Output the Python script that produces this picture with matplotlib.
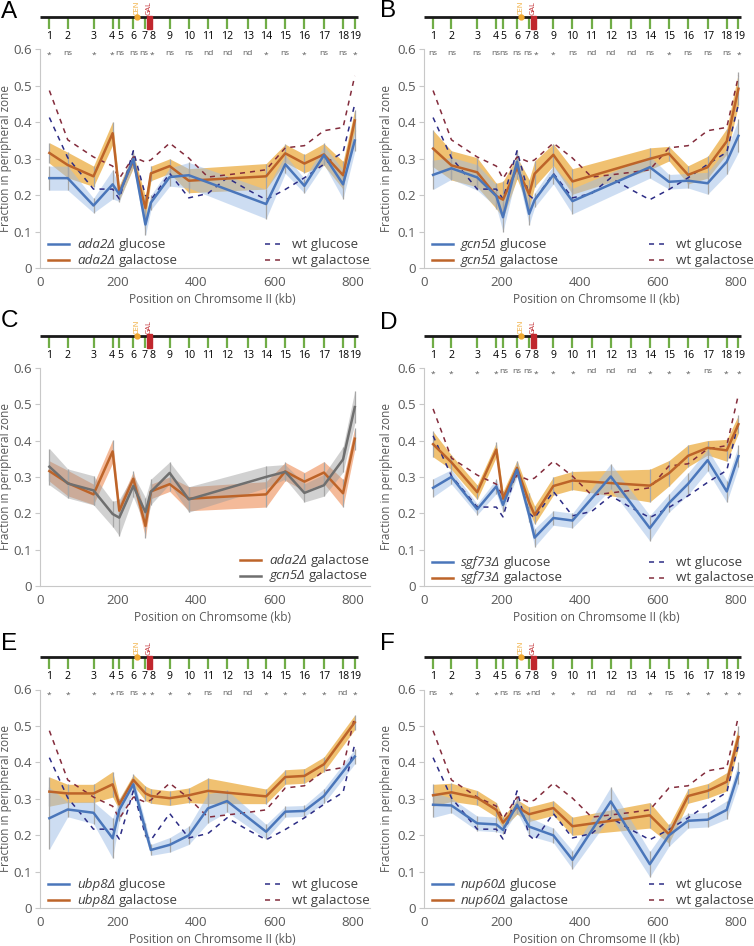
import numpy as np
import matplotlib
matplotlib.use('Agg')
import matplotlib.pyplot as plt
from matplotlib.offsetbox import TextArea, HPacker, VPacker, DrawingArea, AnchoredOffsetbox
from matplotlib.lines import Line2D
from matplotlib.patches import Rectangle

plt.rcParams['font.family'] = ['Open Sans', 'DejaVu Sans']

nan = np.nan

# positions of the 19 loci on chromosome II (kb)
pos = np.array([24, 71, 137, 186, 203, 239, 270, 284, 332, 381,
                430, 479, 532, 579, 628, 677, 727, 776, 806])
locus_labels = [str(i) for i in range(1, 20)]
chrom_len = 813
cen_kb = 248
gal_kb = 280

# wild type (dashed, same in every panel)
wt_glu = [0.413, 0.303, 0.217, 0.217, 0.19, 0.322, 0.20, 0.187, 0.26, 0.193,
          0.205, 0.248, 0.215, 0.188, 0.216, 0.248, 0.285, 0.318, 0.45]
wt_gal = [0.487, 0.352, 0.305, 0.28, 0.246, 0.305, 0.291, 0.297, 0.343, 0.302,
          0.25, 0.256, 0.263, 0.27, 0.33, 0.336, 0.377, 0.386, 0.527]

# A: ada2
ada2_glu = [0.247, 0.247, 0.172, 0.23, 0.203, 0.30, 0.12, 0.18, 0.25, 0.255,
            nan, nan, nan, 0.176, 0.285, 0.226, 0.31, 0.23, 0.35]
ada2_glu_err = [0.033, 0.033, 0.02, 0.04, 0.02, 0.02, 0.03, 0.02, 0.025, 0.035,
                nan, nan, nan, 0.04, 0.025, 0.02, 0.025, 0.04, 0.03]
ada2_gal = [0.316, 0.283, 0.252, 0.37, 0.207, 0.295, 0.165, 0.26, 0.28, 0.24,
            nan, nan, nan, 0.252, 0.315, 0.287, 0.312, 0.255, 0.405]
ada2_gal_err = [0.028, 0.035, 0.028, 0.032, 0.02, 0.02, 0.032, 0.02, 0.02, 0.033,
                nan, nan, nan, 0.035, 0.025, 0.025, 0.03, 0.038, 0.03]

# B: gcn5
gcn5_glu = [0.256, 0.274, 0.249, 0.198, 0.14, 0.292, 0.149, 0.187, 0.256, 0.184,
            nan, nan, nan, 0.277, 0.237, 0.24, 0.233, 0.292, 0.363]
gcn5_glu_err = [0.04, 0.03, 0.035, 0.03, 0.04, 0.03, 0.03, 0.02, 0.025, 0.035,
                nan, nan, nan, 0.03, 0.02, 0.02, 0.03, 0.035, 0.045]
gcn5_gal = [0.328, 0.282, 0.263, 0.198, 0.188, 0.275, 0.203, 0.259, 0.311, 0.238,
            nan, nan, nan, 0.30, 0.314, 0.256, 0.277, 0.348, 0.492]
gcn5_gal_err = [0.05, 0.04, 0.04, 0.035, 0.05, 0.03, 0.04, 0.035, 0.03, 0.035,
                nan, nan, nan, 0.03, 0.02, 0.025, 0.03, 0.035, 0.045]

# D: sgf73
sgf73_glu = [0.27, 0.30, 0.211, 0.274, 0.223, 0.32, 0.195, 0.133, 0.187, 0.18,
             nan, 0.301, nan, 0.159, 0.228, 0.281, 0.346, 0.26, 0.357]
sgf73_glu_err = [0.025, 0.02, 0.015, 0.02, 0.02, 0.02, 0.02, 0.025, 0.02, 0.02,
                 nan, 0.035, nan, 0.035, 0.025, 0.03, 0.03, 0.03, 0.03]
sgf73_gal = [0.39, 0.34, 0.258, 0.375, 0.24, 0.325, 0.23, 0.195, 0.275, 0.29,
             nan, nan, nan, 0.276, 0.31, 0.358, 0.38, 0.373, 0.445]
sgf73_gal_err = [0.035, 0.02, 0.02, 0.02, 0.02, 0.02, 0.025, 0.025, 0.025, 0.025,
                 nan, nan, nan, 0.045, 0.035, 0.03, 0.02, 0.03, 0.025]

# E: ubp8
ubp8_glu = [0.247, 0.271, 0.262, 0.192, 0.27, 0.34, 0.215, 0.16, 0.174, 0.20,
            0.274, 0.294, nan, 0.21, 0.265, 0.267, 0.308, nan, 0.416]
ubp8_glu_err = [0.085, 0.02, 0.03, 0.055, 0.03, 0.02, 0.02, 0.015, 0.02, 0.025,
                0.04, 0.03, nan, 0.02, 0.015, 0.015, 0.02, nan, 0.02]
ubp8_gal = [0.32, 0.315, 0.315, 0.34, 0.285, 0.352, 0.315, 0.308, 0.302, 0.31,
            0.322, nan, nan, 0.307, 0.36, 0.363, 0.395, nan, 0.51]
ubp8_gal_err = [0.04, 0.025, 0.025, 0.035, 0.015, 0.015, 0.02, 0.02, 0.02, 0.02,
                0.035, nan, nan, 0.02, 0.02, 0.02, 0.02, nan, 0.02]

# F: nup60
nup60_glu = [0.284, 0.282, 0.233, 0.23, 0.215, 0.284, 0.224, nan, 0.20, 0.133,
             nan, 0.293, nan, 0.121, 0.20, 0.24, 0.243, 0.27, 0.371]
nup60_glu_err = [0.035, 0.02, 0.02, 0.02, 0.01, 0.02, 0.025, nan, 0.02, 0.025,
                 nan, 0.04, nan, 0.035, 0.03, 0.02, 0.02, 0.025, 0.03]
nup60_gal = [0.31, 0.318, 0.303, 0.27, 0.235, 0.278, 0.258, nan, 0.275, 0.225,
             nan, nan, nan, 0.255, 0.203, 0.308, 0.322, 0.347, 0.47]
nup60_gal_err = [0.03, 0.025, 0.02, 0.02, 0.015, 0.02, 0.02, nan, 0.02, 0.025,
                 nan, nan, nan, 0.035, 0.025, 0.02, 0.02, 0.025, 0.03]

sig_A = ['*', 'ns', '*', '*', 'ns', 'ns', 'ns', '*', 'ns', 'ns', 'nd', 'nd', 'nd', '*', 'ns', '*', 'ns', 'ns', '*']
sig_B = ['ns', 'ns', 'ns', 'ns', 'ns', 'ns', 'ns', '*', '*', 'ns', 'nd', 'nd', 'nd', 'ns', '*', 'ns', 'ns', 'ns', '*']
sig_D = ['*', '*', '*', '*', 'ns', 'ns', 'ns', '*', '*', '*', 'nd', 'nd', 'nd', '*', '*', '*', 'ns', '*', '*']
sig_E = ['*', '*', '*', '*', 'ns', 'ns', '*', '*', '*', '*', 'ns', 'nd', 'nd', '*', '*', '*', '*', 'nd', '*']
sig_F = ['ns', '*', '*', '*', 'ns', 'ns', '*', 'nd', '*', '*', 'nd', 'nd', 'nd', '*', 'ns', '*', '*', '*', '*']

# small sideways nudges (kb) so crowded labels don't touch
label_nudge = [0, 0, 0, -2, 2, 0, -3, 3, 0, 0, 0, 0, 0, 0, 0, 0, 0, -1, 1]

# colours
BLUE = '#4a76ba'
BLUE_BAND = '#9dbde6'
ORANGE = '#bd6429'
GOLD_BAND = '#ebaa3a'
SALMON_BAND = '#ee8c55'
GRAY = '#6f6f6f'
GRAY_BAND = '#9a9a9a'
WT_GLU = '#2c2c85'
WT_GAL = '#832c3c'
TXT = '#595959'
WT_DASH = (3.3, 3.3)

W, H = 754, 946
fig = plt.figure(figsize=(W / 100, H / 100), dpi=100)


def new_axes(left, top, bottom, width=330):
    return fig.add_axes([left / W, 1 - bottom / H, width / W, (bottom - top) / H])


def style(ax, xlabel, ylab_off):
    ax.set_xlim(0, 845)
    ax.set_ylim(0, 0.6)
    for s in ['top', 'right']:
        ax.spines[s].set_visible(False)
    for s in ['left', 'bottom']:
        ax.spines[s].set_color('#c8c8c8')
    ax.set_yticks(np.arange(7) / 10)
    ax.set_yticklabels(['0', '0.1', '0.2', '0.3', '0.4', '0.5', '0.6'])
    ax.set_xticks([0, 200, 400, 600, 800])
    ax.tick_params(axis='y', length=3.5, color='#c8c8c8', labelcolor=TXT, labelsize=9.6, pad=2)
    ax.tick_params(axis='x', length=0, labelcolor=TXT, labelsize=9.6, pad=5.5)
    ax.set_xlabel(xlabel, fontsize=8.6, color=TXT)
    ax.set_ylabel('Fraction in peripheral zone', fontsize=8.5, color=TXT)
    ax.xaxis.set_label_coords(0.523, -25 / 219)
    ax.yaxis.set_label_coords(-ylab_off / 330, 0.5)


def chromosome(ax):
    ax.plot([0, chrom_len], [0.688, 0.688], color='#1a1a1a', lw=2.0,
            solid_capstyle='butt', clip_on=False, zorder=5)
    ax.vlines(pos, 0.655, 0.688, color='#70ad47', lw=1.6, clip_on=False, zorder=4)
    ax.add_patch(Rectangle((gal_kb - 6.5, 0.655), 13, 0.037, color='#c0272d',
                           clip_on=False, zorder=6))
    ax.plot([cen_kb], [0.688], 'o', color='#f0a830', ms=3.5, clip_on=False, zorder=7)
    ax.text(cen_kb, 0.694, 'CEN', rotation=90, color='#f0a830', fontsize=5.3,
            ha='center', va='bottom', clip_on=False)
    ax.text(gal_kb, 0.694, 'GAL', rotation=90, color='#c0272d', fontsize=5.3,
            ha='center', va='bottom', clip_on=False)
    for x, dx, lab in zip(pos, label_nudge, locus_labels):
        ax.text(x + dx, 0.635, lab, ha='center', va='center', fontsize=7.6, color='black',
                clip_on=False)


def sig_labels(ax, labels):
    for x, dx, s in zip(pos, label_nudge, labels):
        y = 0.583 if s == '*' else 0.589
        ax.text(x + dx, y, s, ha='center', va='center', fontsize=6.0, color=TXT)


def series(ax, mean, err, color, band, alpha):
    m = np.array(mean, float)
    e = np.array(err, float)
    ok = ~np.isnan(m)
    x, y, d = pos[ok], m[ok], e[ok]
    ax.fill_between(x, y - d, y + d, color=band, alpha=alpha, lw=0, zorder=1)
    ax.vlines(x, y - d, y + d, color='#a6a6a6', lw=0.9, zorder=2)
    ax.plot(x, y, color=color, lw=1.8, zorder=4)


def wt_lines(ax):
    ax.plot(pos, wt_glu, color=WT_GLU, lw=1.1, dashes=WT_DASH, zorder=3)
    ax.plot(pos, wt_gal, color=WT_GAL, lw=1.1, dashes=WT_DASH, zorder=3)


def legend_row(color, gene, cond, dashed=False):
    if dashed:
        da = DrawingArea(11, 8, 0, 0)
        da.add_artist(Line2D([0, 11], [4, 4], color=color, lw=1.1, dashes=WT_DASH))
        gap = 8.5
    else:
        da = DrawingArea(15, 8, 0, 0)
        da.add_artist(Line2D([0, 15], [4, 4], color=color, lw=1.8))
        gap = 6
    tp = dict(fontsize=9.6, color='#404040')
    texts = []
    if gene:
        texts.append(TextArea(gene, textprops=dict(tp, style='italic')))
    texts.append(TextArea(cond, textprops=tp))
    inner = HPacker(children=texts, sep=2.5, pad=0, align='baseline')
    return HPacker(children=[da, inner], sep=gap, pad=0, align='center')


def add_legend(ax, rows, loc, anchor):
    box = VPacker(children=rows, sep=2, pad=0, align='left')
    ab = AnchoredOffsetbox(loc=loc, child=box, pad=0, borderpad=0, frameon=False,
                           bbox_to_anchor=anchor, bbox_transform=ax.transAxes)
    ax.add_artist(ab)


def mutant_panel(left, top, bottom, ylab_off, gene, glu, glu_err, gal, gal_err, sig):
    ax = new_axes(left, top, bottom)
    style(ax, 'Position on Chromsome II (kb)', ylab_off)
    series(ax, gal, gal_err, ORANGE, GOLD_BAND, 0.72)
    series(ax, glu, glu_err, BLUE, BLUE_BAND, 0.5)
    wt_lines(ax)
    chromosome(ax)
    sig_labels(ax, sig)
    add_legend(ax, [legend_row(BLUE, gene, 'glucose'),
                    legend_row(ORANGE, gene, 'galactose')],
               'lower left', (8 / 330, 1.7 / 219))
    add_legend(ax, [legend_row(WT_GLU, None, 'wt glucose', dashed=True),
                    legend_row(WT_GAL, None, 'wt galactose', dashed=True)],
               'lower right', (1.0, 1.7 / 219))
    return ax


LX, RX = 40, 423.7

mutant_panel(LX, 49.3, 268.3, 28, 'ada2Δ', ada2_glu, ada2_glu_err, ada2_gal, ada2_gal_err, sig_A)
mutant_panel(RX, 49.3, 268.3, 31, 'gcn5Δ', gcn5_glu, gcn5_glu_err, gcn5_gal, gcn5_gal_err, sig_B)
mutant_panel(RX, 367.8, 586, 31, 'sgf73Δ', sgf73_glu, sgf73_glu_err, sgf73_gal, sgf73_gal_err, sig_D)
mutant_panel(LX, 689.5, 908.3, 28, 'ubp8Δ', ubp8_glu, ubp8_glu_err, ubp8_gal, ubp8_gal_err, sig_E)
mutant_panel(RX, 689.5, 908.3, 31, 'nup60Δ', nup60_glu, nup60_glu_err, nup60_gal, nup60_gal_err, sig_F)

# C: comparison of galactose curves
axc = new_axes(LX, 367.8, 586)
style(axc, 'Position on Chromsome (kb)', 28)
series(axc, ada2_gal, ada2_gal_err, ORANGE, SALMON_BAND, 0.6)
series(axc, gcn5_gal, gcn5_gal_err, GRAY, GRAY_BAND, 0.45)
chromosome(axc)
add_legend(axc, [legend_row(ORANGE, 'ada2Δ', 'galactose'),
                 legend_row(GRAY, 'gcn5Δ', 'galactose')],
           'lower right', (1.0, 3.7 / 219))

for letter, x, y in [('A', 1, 12), ('B', 380, 11), ('C', 1, 321),
                     ('D', 380, 323), ('E', 1, 644), ('F', 380, 644)]:
    fig.text(x / W, 1 - y / H, letter, fontsize=17.5, family='Liberation Sans',
             ha='left', va='center')

fig.savefig('out.png', dpi=100)
